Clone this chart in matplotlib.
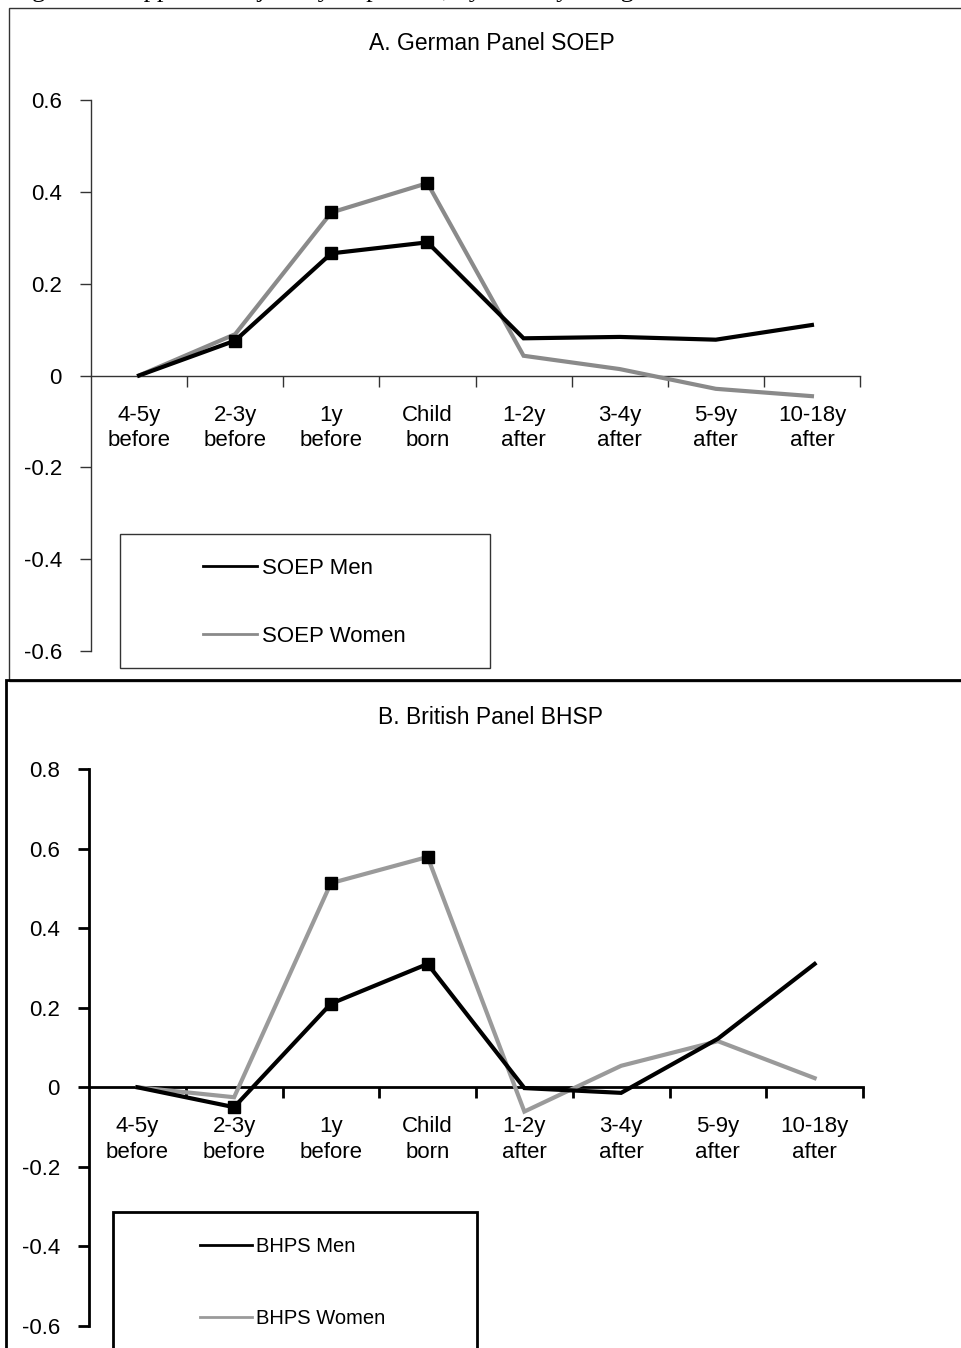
import matplotlib
matplotlib.use("Agg")
import matplotlib.pyplot as plt
from matplotlib.lines import Line2D
from matplotlib.patches import Rectangle
import numpy as np

plt.rcParams['font.family'] = ['Liberation Sans', 'DejaVu Sans']

# ---------------- data ----------------
categories = ["4-5y\nbefore", "2-3y\nbefore", "1y\nbefore", "Child\nborn",
              "1-2y\nafter", "3-4y\nafter", "5-9y\nafter", "10-18y\nafter"]

soep_men   = [0.0, 0.076, 0.266, 0.290, 0.081, 0.084, 0.078, 0.110]
soep_women = [0.0, 0.090, 0.355, 0.419, 0.043, 0.014, -0.029, -0.045]
soep_men_marks = [1, 2, 3]
soep_women_marks = [2, 3]

bhps_men   = [0.0, -0.050, 0.210, 0.310, -0.002, -0.014, 0.122, 0.310]
bhps_women = [0.0, -0.025, 0.513, 0.579, -0.061, 0.054, 0.116, 0.023]
bhps_men_marks = [1, 2, 3]
bhps_women_marks = [2, 3]

soep_yticks = [0.6, 0.4, 0.2, 0, -0.2, -0.4, -0.6]
soep_yticklabels = ["0.6", "0.4", "0.2", "0", "-0.2", "-0.4", "-0.6"]
bhps_yticks = [0.8, 0.6, 0.4, 0.2, 0, -0.2, -0.4, -0.6]
bhps_yticklabels = ["0.8", "0.6", "0.4", "0.2", "0", "-0.2", "-0.4", "-0.6"]

title_a = "A. German Panel SOEP"
title_b = "B. British Panel BHSP"
legend_a = ["SOEP Men", "SOEP Women"]
legend_b = ["BHPS Men", "BHPS Women"]
caption = "Figure 2: Happiness trajectory of parents, by country and gender"

# ---------------- layout ----------------
W, H = 961, 1348
fig = plt.figure(figsize=(W / 100, H / 100), dpi=100)


def fx(x):
    return x / W


def fy(y):
    return 1 - y / H


def px_axes(l, r, t, b):
    return fig.add_axes([fx(l), fy(b), (r - l) / W, (b - t) / H])


# caption (cut off at top, as in the source page)
fig.text(fx(10), fy(-3), caption, family=['Liberation Serif', 'DejaVu Serif'],
         fontsize=19, va='baseline', ha='left')

# panel frames
fig.add_artist(Rectangle((fx(9), fy(681)), (980 - 9) / W, (681 - 8) / H,
                         transform=fig.transFigure, fill=False, lw=1.0,
                         edgecolor='#333333'))
fig.add_artist(Rectangle((fx(6), fy(1380)), (990 - 6) / W, (1380 - 680) / H,
                         transform=fig.transFigure, fill=False, lw=2.0,
                         edgecolor='black'))


def style_axis(ax, yticks, yticklabels, ylim, spine_lw, spine_color):
    ax.set_xlim(-0.5, 7.5)
    ax.set_ylim(*ylim)
    for s in ['top', 'right']:
        ax.spines[s].set_visible(False)
    ax.spines['bottom'].set_position(('data', 0))
    for s in ['left', 'bottom']:
        ax.spines[s].set_linewidth(spine_lw)
        ax.spines[s].set_color(spine_color)
    ax.set_xticks(range(len(categories)))
    ax.set_xticklabels(categories, fontsize=16, linespacing=1.3)
    ax.set_xticks(np.arange(0.5, len(categories), 1.0), minor=True)
    ax.tick_params(axis='x', which='major', length=0, pad=21)
    ax.tick_params(axis='x', which='minor', length=8, width=spine_lw,
                   color=spine_color, direction='out')
    ax.set_yticks(yticks)
    ax.set_yticklabels(yticklabels, fontsize=16)
    ax.tick_params(axis='y', which='major', length=8, width=spine_lw,
                   color=spine_color, direction='out', pad=13)
    ax.patch.set_visible(False)


# ---------------- Panel A ----------------
axA = px_axes(91, 860, 100, 651)
style_axis(axA, soep_yticks, soep_yticklabels, (-0.6, 0.6), 1.0, '#333333')
x = np.arange(len(categories))
axA.plot(x, soep_women, color='#8a8a8a', lw=3.0, marker='s', markevery=soep_women_marks,
         markersize=8, markerfacecolor='black', markeredgecolor='black', zorder=3,
         solid_joinstyle='miter')
axA.plot(x, soep_men, color='black', lw=3.0, marker='s', markevery=soep_men_marks,
         markersize=8, markerfacecolor='black', markeredgecolor='black', zorder=4,
         solid_joinstyle='miter')
fig.text(fx(492), fy(43), title_a, fontsize=16.5, ha='center', va='center')

fig.add_artist(Rectangle((fx(120), fy(668)), (490 - 120) / W, (668 - 534) / H,
                         transform=fig.transFigure, fill=False, lw=1.0,
                         edgecolor='#333333'))
hA = [Line2D([], [], color='black', lw=2.0), Line2D([], [], color='#8a8a8a', lw=2.0)]
fig.legend(hA, legend_a, loc='center left', bbox_to_anchor=(fx(203), fy(602.5)),
           frameon=False, fontsize=16, handlelength=2.45, handletextpad=0.2,
           labelspacing=2.1, borderpad=0, borderaxespad=0)

# ---------------- Panel B ----------------
axB = px_axes(89, 863, 769, 1326)
style_axis(axB, bhps_yticks, bhps_yticklabels, (-0.6, 0.8), 2.0, 'black')
axB.plot(x, bhps_women, color='#9a9a9a', lw=3.0, marker='s', markevery=bhps_women_marks,
         markersize=8, markerfacecolor='black', markeredgecolor='black', zorder=3,
         solid_joinstyle='miter')
axB.plot(x, bhps_men, color='black', lw=3.0, marker='s', markevery=bhps_men_marks,
         markersize=8, markerfacecolor='black', markeredgecolor='black', zorder=4,
         solid_joinstyle='miter')
fig.text(fx(490), fy(717), title_b, fontsize=16.5, ha='center', va='center')

fig.add_artist(Rectangle((fx(113), fy(1380)), (477 - 113) / W, (1380 - 1212) / H,
                         transform=fig.transFigure, fill=False, lw=2.0,
                         edgecolor='black'))
hB = [Line2D([], [], color='black', lw=2.0), Line2D([], [], color='#9a9a9a', lw=2.0)]
fig.legend(hB, legend_b, loc='center left', bbox_to_anchor=(fx(200), fy(1282.5)),
           frameon=False, fontsize=14.5, handlelength=2.6, handletextpad=0.2,
           labelspacing=2.6, borderpad=0, borderaxespad=0)

fig.savefig("out.png", dpi=100)
